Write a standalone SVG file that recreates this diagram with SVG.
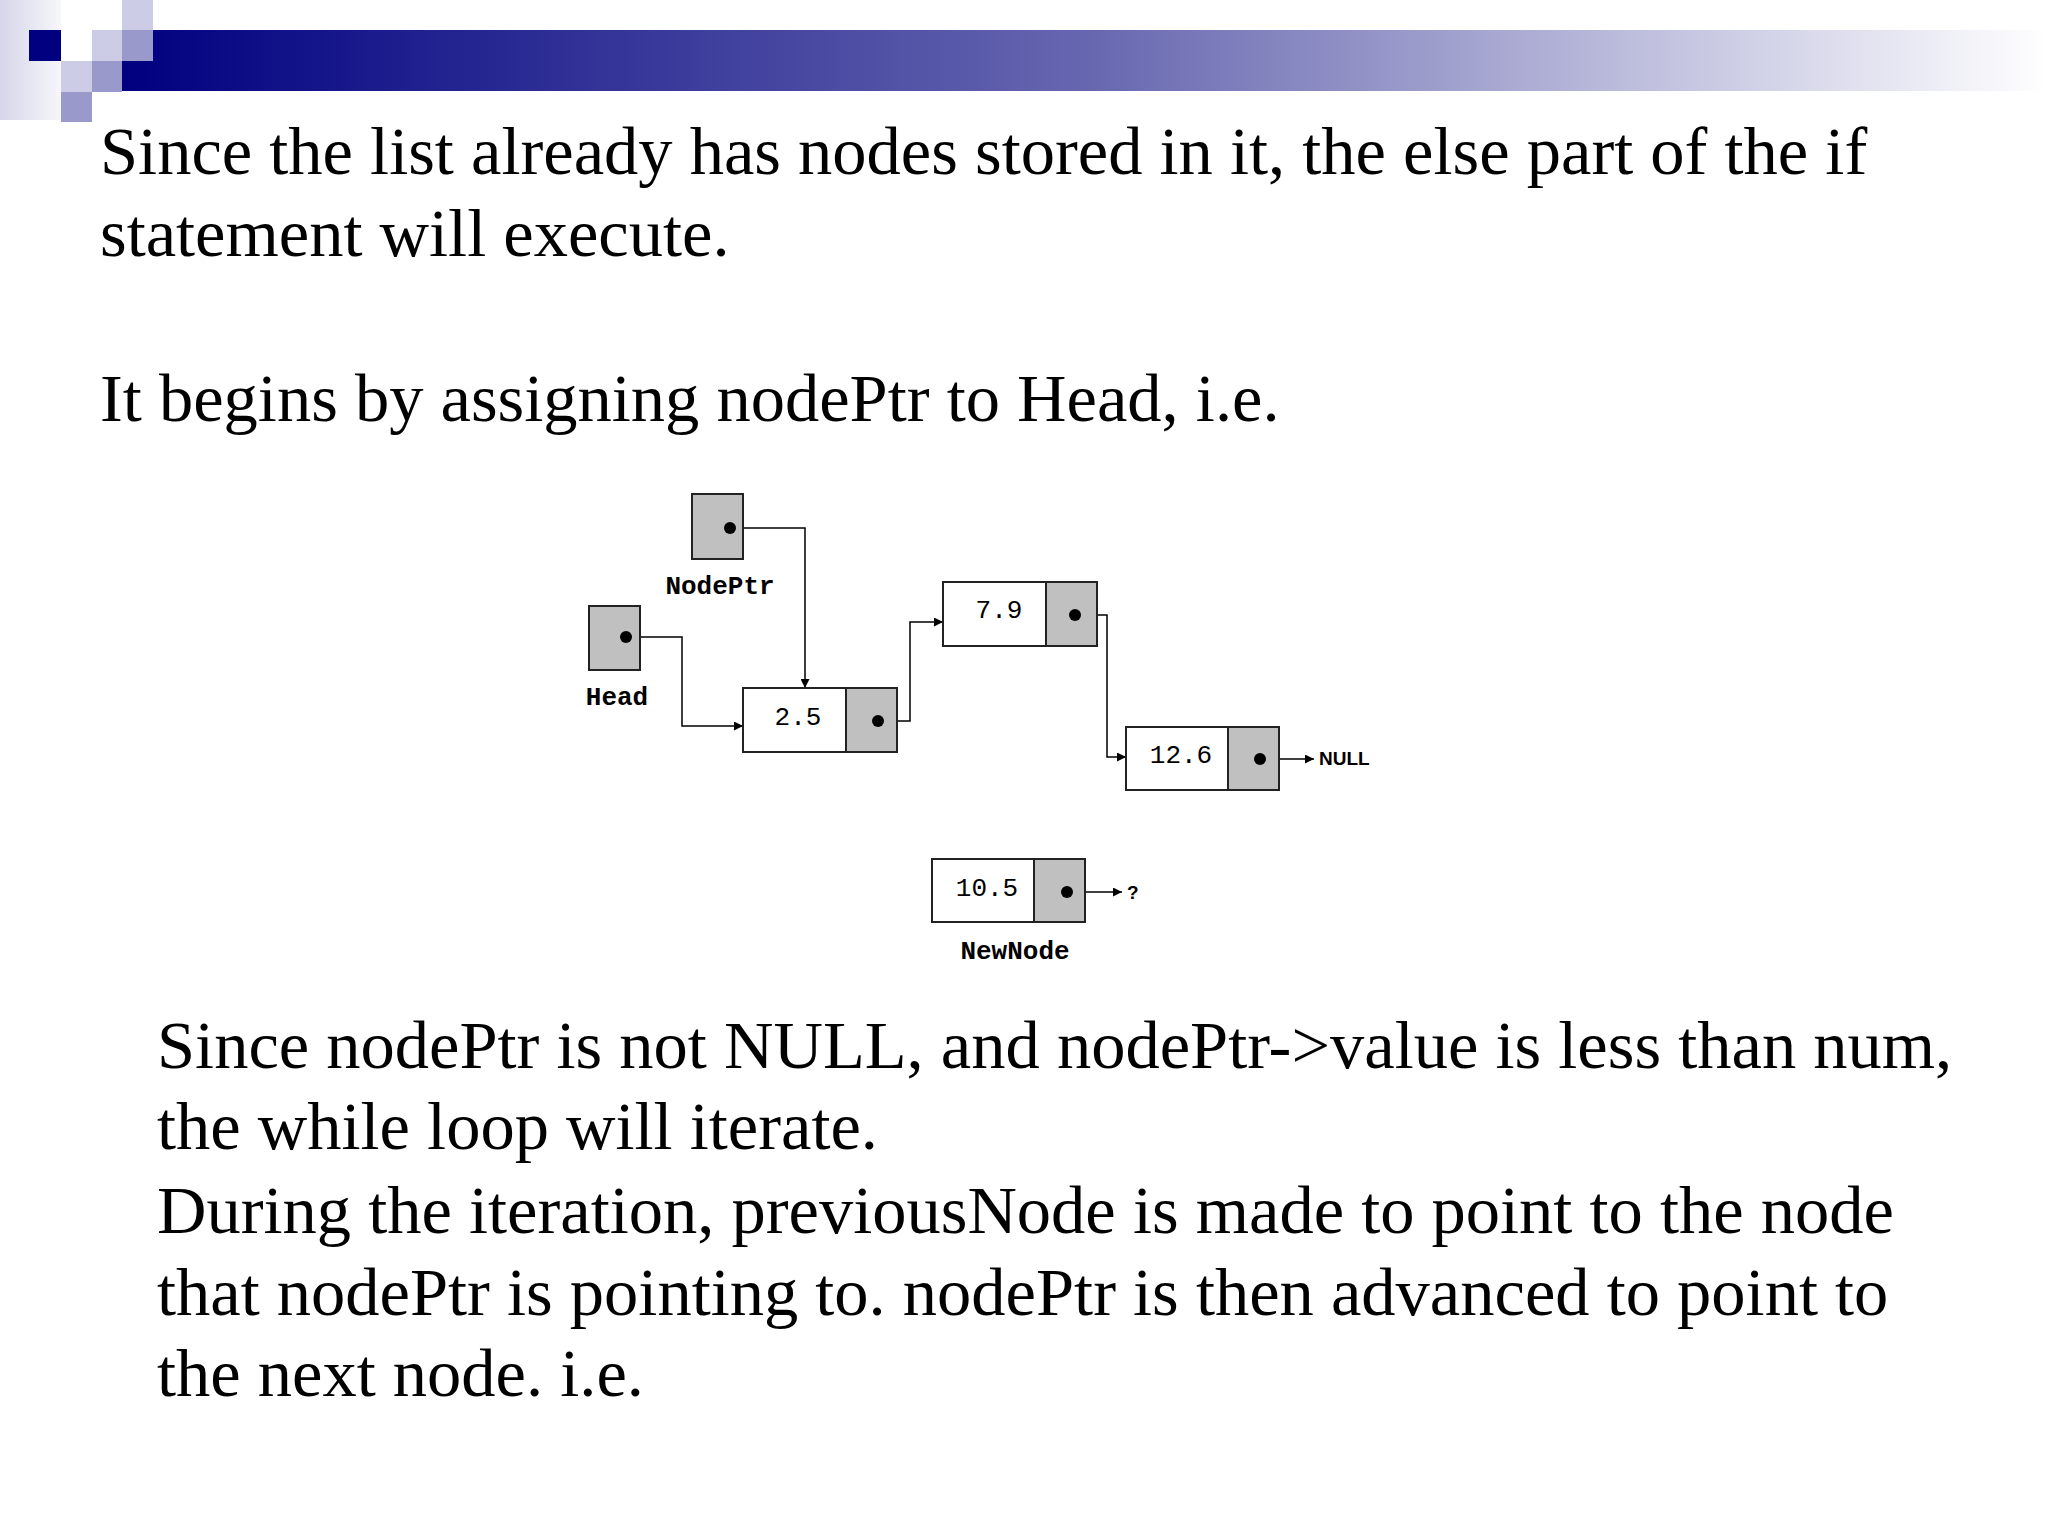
<svg xmlns="http://www.w3.org/2000/svg" width="2048" height="1536" viewBox="0 0 2048 1536">
<defs>
<linearGradient id="bar" x1="0" x2="1" y1="0" y2="0"><stop offset="0" stop-color="#000080"/><stop offset="0.5" stop-color="#6666b0"/><stop offset="1" stop-color="#ffffff"/></linearGradient>
<linearGradient id="side" x1="0" x2="1"><stop offset="0" stop-color="#d6d6ea"/><stop offset="1" stop-color="#f6f6fb"/></linearGradient>
<marker id="ar" viewBox="0 0 10 10" refX="10" refY="5" markerWidth="9" markerHeight="9" orient="auto" markerUnits="userSpaceOnUse"><path d="M0,0 L10,5 L0,10 z" fill="#000"/></marker>
</defs>
<style>
.t{font-family:"Liberation Serif",serif;font-size:68.5px;fill:#000}
.m{font-family:"Liberation Mono",monospace;font-size:26px;fill:#000;text-anchor:middle}
.b{font-weight:bold}
.s{font-family:"Liberation Sans",sans-serif;font-size:19px;font-weight:bold;fill:#000}
.w{fill:#fff;stroke:#222;stroke-width:2}
.g{fill:#c0c0c0;stroke:#222;stroke-width:2}
.c{fill:none;stroke:#000;stroke-width:1.5;marker-end:url(#ar)}
</style>
<rect width="2048" height="1536" fill="#fff"/>
<rect x="0" y="0" width="61" height="120" fill="url(#side)"/>
<rect x="122" y="30" width="1926" height="61" fill="url(#bar)"/>
<rect x="29" y="30" width="32" height="31" fill="#000080"/>
<rect x="122" y="0" width="31" height="30" fill="#ccccE6"/>
<rect x="92" y="30" width="30" height="31" fill="#ccccE6"/>
<rect x="122" y="30" width="31" height="31" fill="#9999cc"/>
<rect x="61" y="61" width="31" height="31" fill="#ccccE6"/>
<rect x="92" y="61" width="30" height="31" fill="#9999cc"/>
<rect x="61" y="92" width="31" height="30" fill="#9999cc"/>
<text class="t" x="100" y="174">Since the list already has nodes stored in it, the else part of the if</text>
<text class="t" x="100" y="256">statement will execute.</text>
<text class="t" x="100" y="421">It begins by assigning nodePtr to Head, i.e.</text>
<g id="connectors">
<polyline class="c" points="730,528 805,528 805,688"/>
<polyline class="c" points="626,637 682,637 682,726 743,726"/>
<polyline class="c" points="878,721 910,721 910,622 943,622"/>
<polyline class="c" points="1075,615 1107,615 1107,757 1126,757"/>
<line class="c" x1="1260" y1="759" x2="1314" y2="759"/>
<line class="c" x1="1067" y1="892" x2="1122" y2="892"/>
</g>
<g id="nodeptr"><rect class="g" x="692" y="494" width="51" height="65"/><circle cx="730" cy="528" r="6"/><text class="m b" x="720" y="594">NodePtr</text></g>
<g id="head"><rect class="g" x="589" y="606" width="51" height="64"/><circle cx="626" cy="637" r="6"/><text class="m b" x="617" y="705">Head</text></g>
<g id="n25"><rect class="w" x="743" y="688" width="103" height="64"/><rect class="g" x="846" y="688" width="51" height="64"/><circle cx="878" cy="721" r="6"/><text class="m" x="798" y="725">2.5</text></g>
<g id="n79"><rect class="w" x="943" y="582" width="103" height="64"/><rect class="g" x="1046" y="582" width="51" height="64"/><circle cx="1075" cy="615" r="6"/><text class="m" x="999" y="618">7.9</text></g>
<g id="n126"><rect class="w" x="1126" y="727" width="102" height="63"/><rect class="g" x="1228" y="727" width="51" height="63"/><circle cx="1260" cy="759" r="6"/><text class="m" x="1181" y="763">12.6</text><text class="s" x="1319" y="765">NULL</text></g>
<g id="n105"><rect class="w" x="932" y="859" width="102" height="63"/><rect class="g" x="1034" y="859" width="51" height="63"/><circle cx="1067" cy="892" r="6"/><text class="m" x="987" y="896">10.5</text><text class="s" x="1127" y="899">?</text><text class="m b" x="1015" y="959">NewNode</text></g>
<text class="t" x="157" y="1068">Since nodePtr is not NULL, and nodePtr-&gt;value is less than num,</text>
<text class="t" x="157" y="1149">the while loop will iterate.</text>
<text class="t" x="157" y="1233">During the iteration, previousNode is made to point to the node</text>
<text class="t" x="157" y="1315">that nodePtr is pointing to. nodePtr is then advanced to point to</text>
<text class="t" x="157" y="1396">the next node. i.e.</text>
</svg>
